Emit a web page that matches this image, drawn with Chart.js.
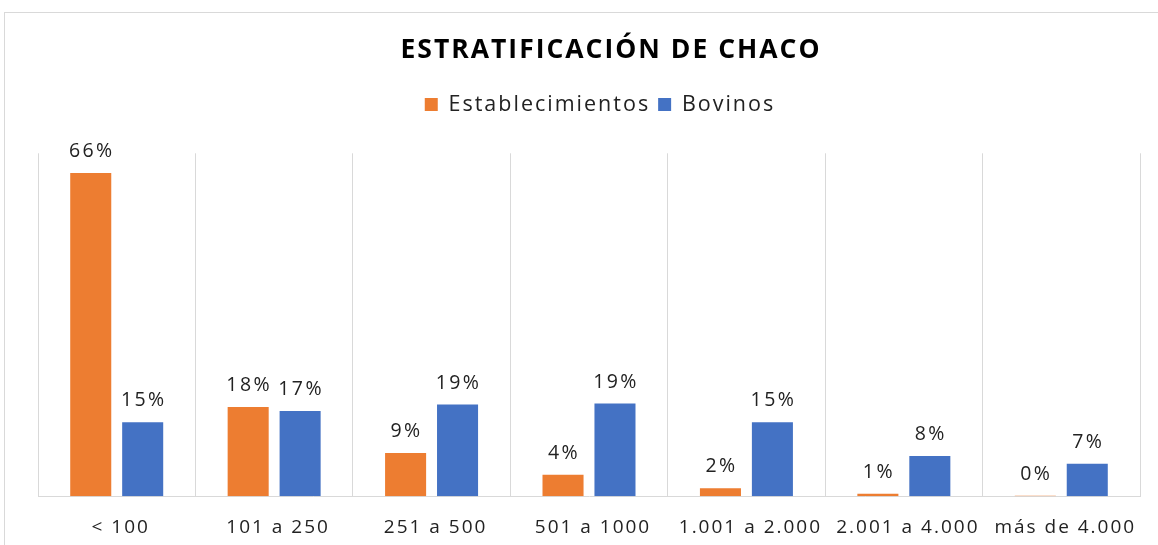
<!DOCTYPE html>
<html>
<head>
<meta charset="utf-8">
<script src="https://cdn.jsdelivr.net/npm/chart.js@4.4.0/dist/chart.umd.min.js"></script>
<style>
  html, body { margin: 0; padding: 0; background: #fff; overflow: hidden; }
  #frame { position: absolute; left: 4px; top: 12px; width: 1220px; height: 560px; border: 1px solid #d9d9d9; }
  #wrap { position: absolute; left: 0; top: 0; width: 1222px; height: 545px; }
</style>
</head>
<body>
<div id="frame"></div>
<div id="wrap"><canvas id="chaco"></canvas></div>
<script>
'use strict';

// categorias (cabezas por establecimiento)
let categories = ['< 100', '101 a 250', '251 a 500', '501 a 1000', '1.001 a 2.000', '2.001 a 4.000', 'más de 4.000'];
// porcentajes
let establecimientos = [0.660, 0.182, 0.088, 0.044, 0.016, 0.005, 0.001];
let bovinos = [0.151, 0.174, 0.187, 0.189, 0.151, 0.082, 0.066];

let font = "'Open Sans', sans-serif";
let textColor = '#222';

// etiquetas de porcentaje arriba de cada barra
let barLabels = {
  id: 'barLabels',
  afterDatasetsDraw (chart) {
    let ctx = chart.ctx;
    ctx.save();
    ctx.letterSpacing = '2.4px';
    ctx.font = '19.5px ' + font;
    ctx.fillStyle = textColor;
    ctx.textAlign = 'center';
    ctx.textBaseline = 'alphabetic';
    chart.data.datasets.forEach((ds, i) => {
      chart.getDatasetMeta(i).data.forEach((bar, j) => {
        ctx.fillText(Math.round(ds.data[j] * 100) + '%', bar.x + 1, bar.y - 16);
      });
    });
    ctx.restore();
  }
};

// texto un poco espaciado, como en el original
let spacing = {
  id: 'spacing',
  beforeLayout (chart) { chart.ctx.letterSpacing = '2px'; },
  afterLayout (chart) {
    // la leyenda esta un poco a la izquierda del titulo
    chart.legend.left -= 11;
    chart.legend.right -= 11;
  },
  beforeDraw (chart) { chart.ctx.letterSpacing = '2px'; }
};

// espacio extra debajo de la leyenda
let legendGap = {
  id: 'legendGap',
  beforeInit (chart) {
    let fit = chart.legend.fit;
    chart.legend.fit = function () {
      fit.bind(chart.legend)();
      this.height += 28;
    };
  }
};

let chart = new Chart(document.getElementById('chaco').getContext('2d'), {
  type: 'bar',
  data: {
    labels: categories,
    datasets: [{
      label: 'Establecimientos',
      data: establecimientos,
      backgroundColor: '#ed7d31',
      categoryPercentage: 0.66,
      barPercentage: 0.79
    }, {
      label: 'Bovinos',
      data: bovinos,
      backgroundColor: '#4472c4',
      categoryPercentage: 0.66,
      barPercentage: 0.79
    }]
  },
  options: {
    responsive: true,
    maintainAspectRatio: false,
    animation: false,
    layout: { padding: { left: 38, right: 38, top: 0, bottom: -14 } },
    plugins: {
      title: {
        display: true,
        text: 'ESTRATIFICACIÓN DE CHACO',
        color: '#000',
        font: { family: font, size: 26.5, weight: 'bold' },
        padding: { top: 35, bottom: 19 }
      },
      legend: {
        position: 'top',
        labels: {
          color: textColor,
          font: { family: font, size: 21.5 },
          boxWidth: 13,
          boxHeight: 13,
          padding: 8
        }
      },
      tooltip: { enabled: false }
    },
    scales: {
      x: {
        grid: { color: '#d9d9d9', drawTicks: false, offset: true },
        border: { color: '#d9d9d9' },
        ticks: { color: textColor, font: { family: font, size: 19 }, padding: 20, labelOffset: 4, maxRotation: 0 }
      },
      y: {
        position: 'right',
        min: 0,
        max: 0.7,
        grid: { display: false },
        border: { display: false },
        ticks: { display: false },
        afterFit (scale) { scale.width = 44; }
      }
    }
  },
  plugins: [spacing, barLabels, legendGap]
});
</script>
</body>
</html>
